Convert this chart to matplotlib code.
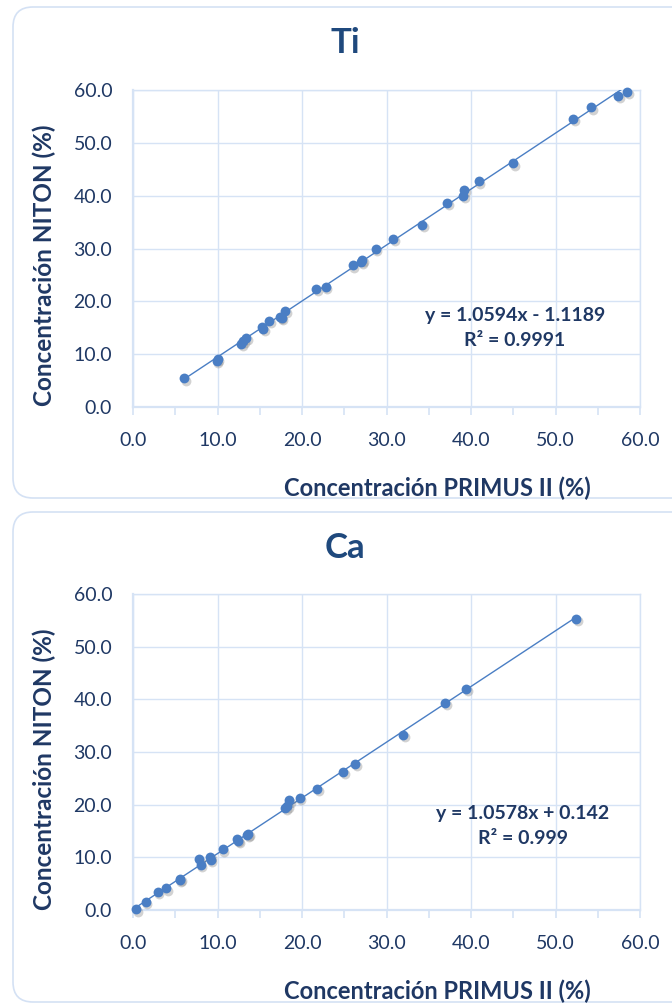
import matplotlib.pyplot as plt
import numpy as np
from matplotlib.patches import FancyBboxPatch
from matplotlib import transforms

plt.rcParams['font.family'] = ['Lato', 'DejaVu Sans']

# Ti: PRIMUS II vs NITON concentration (%)
ti_x = [6.06, 10.0, 9.9, 12.8, 13.0, 13.4, 15.2, 15.4, 16.1, 17.4, 17.6, 18.0,
        21.7, 22.8, 26.0, 27.0, 27.1, 28.7, 30.8, 34.2, 37.2, 39.1, 39.2, 40.9,
        45.0, 52.1, 54.2, 57.4, 58.5]
ti_y = [5.4, 9.1, 8.8, 11.9, 12.5, 13.0, 15.1, 14.8, 16.3, 17.0, 16.8, 18.1,
        22.3, 22.7, 26.8, 27.4, 27.8, 29.9, 31.8, 34.5, 38.7, 39.9, 41.1, 42.7,
        46.1, 54.5, 56.7, 58.9, 59.6]
ti_slope, ti_intercept = 1.0594, -1.1189
ti_r2 = "0.9991"

# Ca: PRIMUS II vs NITON concentration (%)
ca_x = [0.4, 1.5, 2.9, 3.9, 5.5, 5.6, 7.8, 8.0, 9.1, 9.2, 10.6, 12.3, 12.4,
        13.5, 13.6, 18.0, 18.2, 18.5, 19.7, 21.8, 24.9, 26.3, 32.0, 36.9,
        39.4, 52.4]
ca_y = [0.1, 1.5, 3.4, 4.1, 5.7, 5.9, 9.6, 8.6, 10.0, 9.5, 11.5, 13.4, 13.2,
        14.2, 14.4, 19.4, 19.7, 20.8, 21.2, 22.9, 26.3, 27.8, 33.2, 39.4,
        42.0, 55.3]
ca_slope, ca_intercept = 1.0578, 0.142
ca_r2 = "0.999"

ticks = [0, 10, 20, 30, 40, 50, 60]
text_col = "#1F3864"
title_col = "#1F497D"
grid_col = "#D6E3F5"
dot_col = "#4A7EC4"

fig = plt.figure(figsize=(6.72, 10.08), dpi=100)

# rounded panel frames (inches)
for (y0, h) in [(5.10, 4.91), (0.06, 4.90)]:
    box = FancyBboxPatch((0.13, y0), 6.9, h, boxstyle="round,pad=0,rounding_size=0.2",
                         transform=fig.dpi_scale_trans, facecolor="white",
                         edgecolor="#D4E1F4", linewidth=1.2, zorder=-5)
    fig.patches.append(box)


def panel(rect, x, y, slope, intercept, r2, title, title_y, eq_pos):
    ax = fig.add_axes(rect)
    ax.set_facecolor("none")
    ax.set_xlim(0, 60)
    ax.set_ylim(0, 60)
    ax.set_xticks(ticks)
    ax.set_yticks(ticks)
    ax.set_xticks(np.arange(5, 60, 10), minor=True)
    ax.set_xticklabels([f"{t:.1f}" for t in ticks])
    ax.set_yticklabels([f"{t:.1f}" for t in ticks])
    ax.grid(True, color=grid_col, linewidth=1.0)
    ax.set_axisbelow(True)
    for s in ax.spines.values():
        s.set_color(grid_col)
        s.set_linewidth(1.0)
    ax.spines["left"].set_linewidth(1.6)
    ax.spines["bottom"].set_linewidth(1.6)
    ax.tick_params(axis="x", which="both", length=6, color=grid_col, width=1.2,
                   labelsize=14, labelcolor=text_col, pad=12)
    ax.tick_params(axis="y", which="both", length=0, labelsize=14,
                   labelcolor=text_col, pad=15)

    xs = np.array([min(x), max(x)])
    ax.plot(xs, slope * xs + intercept, color=dot_col, linewidth=1.0, zorder=3)
    shadow = transforms.offset_copy(ax.transData, fig=fig, x=1.2, y=-1.5, units="points")
    ax.scatter(x, y, s=50, color="#7F7F7F", alpha=0.35, linewidths=0,
               transform=shadow, zorder=3, clip_on=False)
    ax.scatter(x, y, s=50, color=dot_col, linewidths=0, zorder=4, clip_on=False)

    sign = "-" if intercept < 0 else "+"
    eq = f"y = {slope:.4f}x {sign} {abs(intercept):g}"
    ax.text(eq_pos[0], eq_pos[1], eq + "\n" + f"R² = {r2}", transform=ax.transAxes,
            ha="center", va="center", fontsize=14, fontweight="bold",
            color=text_col, linespacing=1.6)

    ax.set_xlabel("Concentración PRIMUS II (%)", fontsize=17, fontweight="bold",
                  color=text_col)
    ax.xaxis.set_label_coords(0.60, -0.22)
    ax.set_ylabel("Concentración NITON (%)", fontsize=17.5, fontweight="bold",
                  color=text_col)
    ax.yaxis.set_label_coords(-0.152, 0.447)
    fig.text(345 / 672, title_y, title, ha="center", va="center", fontsize=25,
             fontweight="bold", color=title_col)
    return ax


panel([0.198, 0.5962, 0.7545, 0.3145], ti_x, ti_y, ti_slope, ti_intercept, ti_r2,
      "Ti", 1 - 43 / 1008, (0.753, 0.249))
panel([0.198, 0.0972, 0.7545, 0.3135], ca_x, ca_y, ca_slope, ca_intercept, ca_r2,
      "Ca", 1 - 548 / 1008, (0.769, 0.266))

fig.savefig("out.png", dpi=100)
